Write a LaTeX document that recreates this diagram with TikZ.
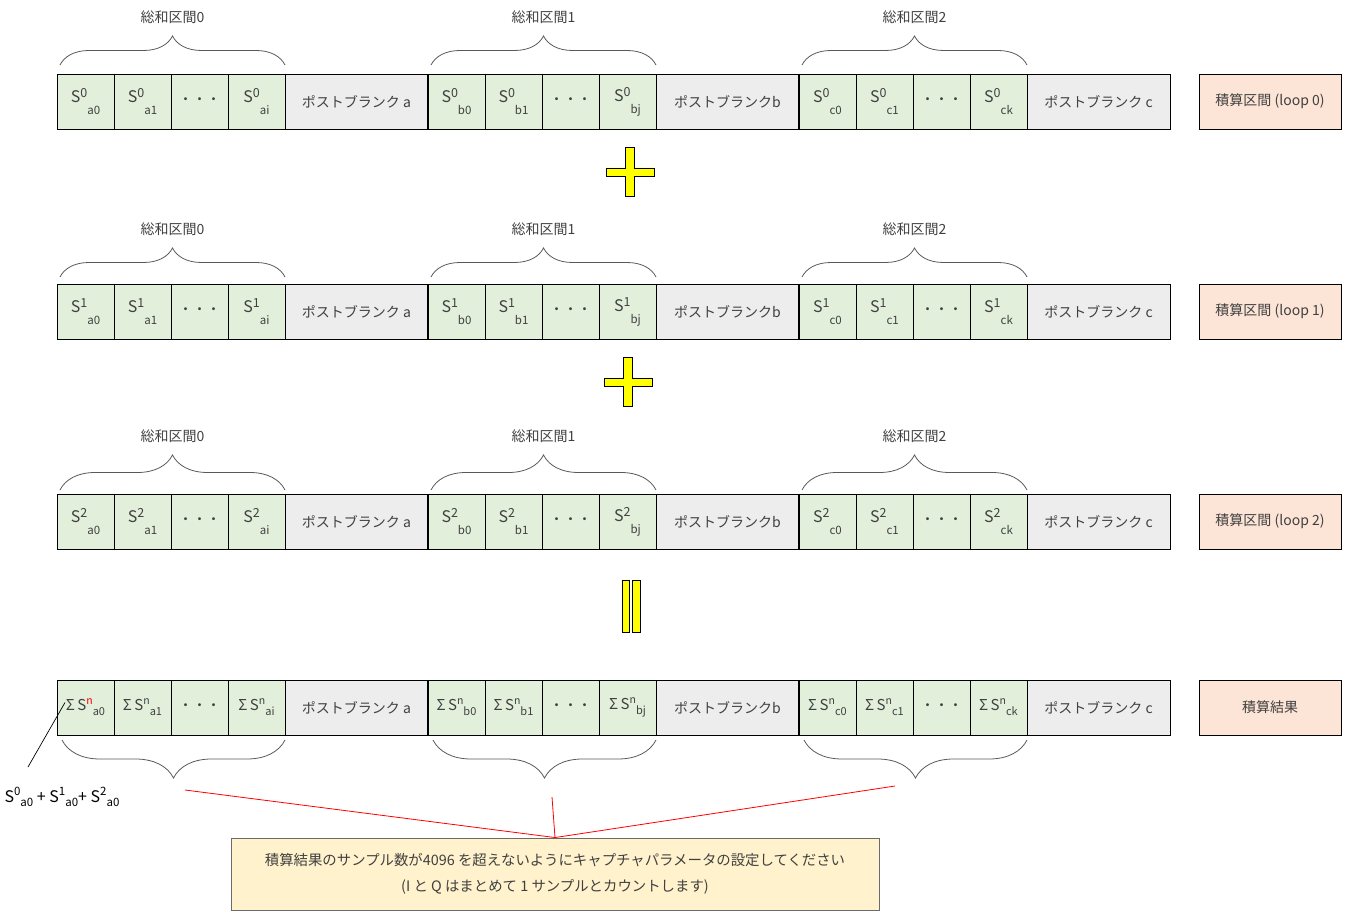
\documentclass[tikz,border=0pt]{standalone}
\usepackage{fontspec}
\setmainfont{Noto Sans CJK JP}
\usetikzlibrary{calc,decorations.pathreplacing}
\definecolor{SumGreen}{HTML}{E2EFDA}
\definecolor{BlankGrey}{HTML}{EDEDED}
\definecolor{LoopPeach}{HTML}{FCE4D6}
\definecolor{NoteYellow}{HTML}{FFF2CC}
\definecolor{NoteEdge}{HTML}{6B6B6B}
\definecolor{CellInk}{HTML}{404040}
\definecolor{BraceInk}{HTML}{595959}
\definecolor{LinkRed}{HTML}{FF0000}
\definecolor{SignYellow}{HTML}{FFFF00}
\newcommand{\sval}[3]{#1\raisebox{5pt}{\fontsize{12.5}{13}\selectfont #2}\raisebox{-12pt}{\fontsize{11.5}{12}\selectfont #3}}
\newcommand{\sumval}[3]{Σ\,S\raisebox{6pt}{\fontsize{10.5}{11}\selectfont #2}\raisebox{-5pt}{\fontsize{11}{12}\selectfont #3}}
\newcommand{\aval}[2]{S\raisebox{7pt}{\fontsize{11.5}{13}\selectfont #1}\raisebox{-4pt}{\fontsize{11.5}{13}\selectfont #2}}

\begin{document}
\begin{tikzpicture}[x=1pt,y=-1pt,
  cellbox/.style={draw=black,line width=0.8pt,fill=SumGreen,text=CellInk,inner sep=0pt,outer sep=0pt,
    minimum width=57pt,minimum height=55pt,anchor=north west,font=\fontsize{16}{18}\selectfont},
  blankbox/.style={cellbox,fill=BlankGrey,minimum width=143pt,font=\fontsize{14}{16}\selectfont},
  loopbox/.style={cellbox,fill=LoopPeach,minimum width=142pt,font=\fontsize{14}{16}\selectfont},
  sumcell/.style={cellbox,font=\fontsize{15}{17}\selectfont},
  sumbrace/.style={draw=BraceInk,line width=0.8pt,decorate,decoration={brace,amplitude=#1}},
  bracelabel/.style={text=CellInk,font=\fontsize{14}{16}\selectfont},
  groupedge/.style={line width=1.8pt},
  sign/.style={fill=SignYellow,draw=black,line width=0.9pt},
  redlink/.style={draw=LinkRed,line width=0.8pt}]
\useasboundingbox (0,0) rectangle (1372,917);

% three loops
\foreach \row/\y/\amp/\gap in {0/74/29/9,1/284/29/7,2/494/35/4}{
  \foreach \grp/\glet/\gsub/\gpost in {0/a/i/{ポストブランク a},1/b/j/{ポストブランクb},2/c/k/{ポストブランク c}}{
    \pgfmathsetmacro\gx{57+\grp*371}
    \node[cellbox] (r\row g\grp c0) at (\gx,\y) {\sval{S}{\row}{\glet0}};
    \node[cellbox] (r\row g\grp c1) at (\gx+57,\y) {\sval{S}{\row}{\glet1}};
    \node[cellbox] (r\row g\grp c2) at (\gx+114,\y) {\fontsize{14}{16}\selectfont ・・・};
    \node[cellbox] (r\row g\grp c3) at (\gx+171,\y) {\sval{S}{\row}{\glet\gsub}};
    \node[blankbox] (r\row g\grp p) at (\gx+228,\y) {\gpost};
    \draw[sumbrace=\amp pt] ($(r\row g\grp c0.north west)+(3,-\gap)$) -- ($(r\row g\grp c3.north east)+(0,-\gap)$)
      node[bracelabel,midway,yshift={\amp pt+19pt}] {総和区間\grp};
  }
  \node[loopbox] (loop\row) at (1199,\y) {積算区間 (loop \row)};
  \foreach \grp in {1,2}
    \draw[groupedge] (r\row g\grp c0.north west) -- (r\row g\grp c0.south west);
}

% sum row
\foreach \grp/\glet/\gsub/\gpost/\ncol in {0/a/i/{ポストブランク a}/LinkRed,1/b/j/{ポストブランクb}/CellInk,2/c/k/{ポストブランク c}/CellInk}{
  \pgfmathsetmacro\gx{57+\grp*371}
  \node[sumcell] (sg\grp c0) at (\gx,680) {\sumval{S}{\textcolor{\ncol}{n}}{\glet0}};
  \node[sumcell] (sg\grp c1) at (\gx+57,680) {\sumval{S}{n}{\glet1}};
  \node[cellbox] (sg\grp c2) at (\gx+114,680) {\fontsize{14}{16}\selectfont ・・・};
  \node[sumcell] (sg\grp c3) at (\gx+171,680) {\sumval{S}{n}{\glet\gsub}};
  \node[blankbox] (sg\grp p) at (\gx+228,680) {\gpost};
  \draw[sumbrace=38pt] ($(sg\grp c3.south east)+(0,5)$) -- ($(sg\grp c0.south west)+(5,5)$);
}
\node[loopbox] (result) at (1199,680) {積算結果};
\foreach \grp in {1,2}
  \draw[groupedge] (sg\grp c0.north west) -- (sg\grp c0.south west);

% plus and equals signs
\foreach \sx/\sy in {630/172,628/382}
  \filldraw[sign,shift={(\sx,\sy)}] (-24,-4) -- (-4.5,-4) -- (-4.5,-24.5) -- (4.5,-24.5) -- (4.5,-4) -- (24,-4)
    -- (24,4) -- (4.5,4) -- (4.5,24.5) -- (-4.5,24.5) -- (-4.5,4) -- (-24,4) -- cycle;
\filldraw[sign] (622,580) rectangle (629,632);
\filldraw[sign] (632,580) rectangle (640,632);

% annotation
\coordinate (sumfoot) at (28,767);
\draw[line width=0.7pt] ($(sg0c0.west)+(8,-5)$) -- (sumfoot);
\node[font=\fontsize{16}{18}\selectfont] (sumlabel) at (62,797) {\aval{0}{a0} + \aval{1}{a0}+ \aval{2}{a0}};

% note
\node[draw=NoteEdge,line width=0.9pt,fill=NoteYellow,text=CellInk,minimum width=648pt,minimum height=72pt,
  align=center,font=\fontsize{14.4}{26}\selectfont] (note) at (555,874)
  {積算結果のサンプル数が4096 を超えないようにキャプチャパラメータの設定してください\\(I と Q はまとめて 1 サンプルとカウントします)};
\coordinate (tip0) at (185,790);
\coordinate (tip1) at (552,797);
\coordinate (tip2) at (895,786);
\foreach \t in {0,1,2}
  \draw[redlink] (tip\t) -- (note.north);
\end{tikzpicture}
\end{document}
